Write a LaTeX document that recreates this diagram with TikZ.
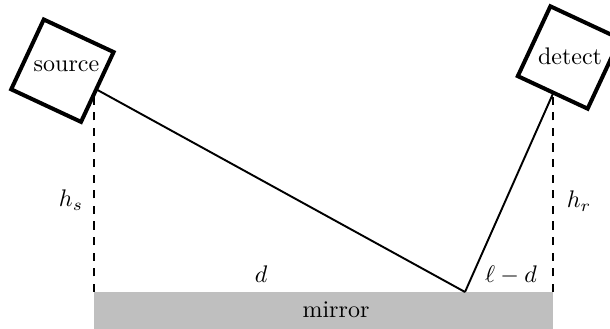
\documentclass[tikz,border=0pt]{standalone}
\usetikzlibrary{shapes.geometric}
\begin{document}
\begin{tikzpicture}[x=0.4167pt,y=-0.4167pt,
  device/.style={regular polygon, regular polygon sides=4, shape border rotate=-25,
    draw, line width=1.67pt, minimum size=45.4pt, inner sep=0pt, outer sep=0pt},
  devtext/.style={inner sep=0pt},
  ray/.style={line width=0.8pt},
  guide/.style={line width=0.8pt, dash pattern=on 3.4pt off 3.1pt},
  lbl/.style={anchor=base, inner sep=0pt}]
\useasboundingbox (0,0) rectangle (610,329);
% mirror
\fill[lightgray] (94,292) rectangle (553,335);
\node[lbl] (mirrortxt) at (336,318) {mirror};
\coordinate (ml) at (94,292);
\coordinate (mr) at (553,292);
\coordinate (P) at (465,292);
% devices
\node[device] (src) at (62.4,70.7) {};
\node[devtext] (srctxt) at (66.5,66) {source};
\node[device] (det) at (569,57.5) {};
\node[devtext] (dettxt) at (570,56) {detect};
% rays
\draw[ray] (src) -- (P);
\draw[ray] (det) -- (P);
% height guides
\coordinate (stop) at (94,95);
\coordinate (dtop) at (553,93);
\draw[guide] (ml) -- (stop);
\draw[guide] (mr) -- (dtop);
% labels
\node[lbl] (hs) at (71,207) {$h_s$};
\node[lbl] (hr) at (579,208) {$h_r$};
\node[lbl] (dl) at (261,283) {$d$};
\node[lbl] (ld) at (511,283) {$\ell-d$};
\end{tikzpicture}
\end{document}
